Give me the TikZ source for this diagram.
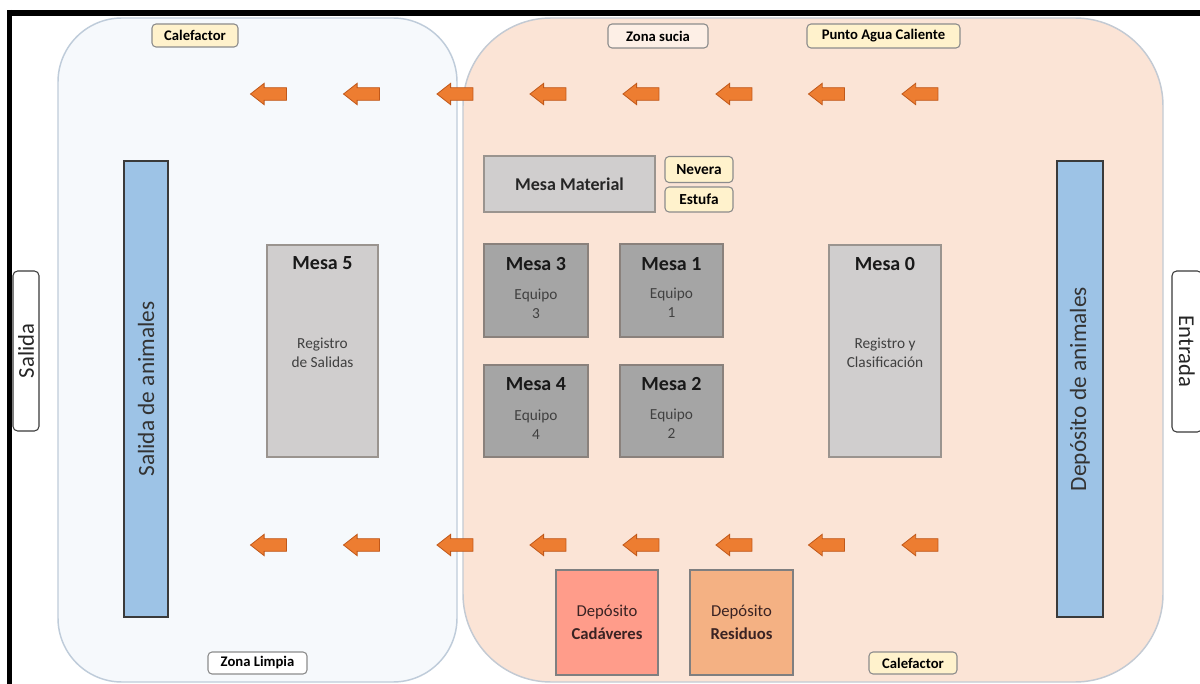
\documentclass[tikz,border=0pt]{standalone}
\usepackage{fontspec}
\setmainfont{Carlito}
\usetikzlibrary{shapes.arrows}
\definecolor{zLfill}{HTML}{F6F9FC}
\definecolor{zLdraw}{HTML}{BFCCDA}
\definecolor{zSfill}{HTML}{FBE4D6}
\definecolor{zSdraw}{HTML}{C3CAD3}
\definecolor{tagfill}{HTML}{FFF2CC}
\definecolor{tagdraw}{HTML}{8C8C8C}
\definecolor{mlight}{HTML}{D0CECE}
\definecolor{mlightd}{HTML}{9A948F}
\definecolor{mdark}{HTML}{A5A5A5}
\definecolor{mdarkd}{HTML}{8A817C}
\definecolor{barfill}{HTML}{9DC3E6}
\definecolor{bardraw}{HTML}{3A3A3A}
\definecolor{cadfill}{HTML}{FF9C8A}
\definecolor{resfill}{HTML}{F4B183}
\definecolor{depdraw}{HTML}{7F7F80}
\definecolor{arrfill}{HTML}{ED7D31}
\definecolor{arrdraw}{HTML}{C0581A}
\definecolor{subtext}{HTML}{404040}
\definecolor{deptext}{HTML}{3A2323}
\begin{document}
\begin{tikzpicture}[x=0.75pt,y=-0.75pt,
  wh/.style 2 args={minimum width=#1*0.75pt, minimum height=#2*0.75pt},
  zoneL/.style={draw=zLdraw, fill=zLfill, line width=1.1pt, rounded corners=48pt},
  zoneS/.style={draw=zSdraw, fill=zSfill, line width=1.1pt, rounded corners=66pt},
  tag/.style={draw=tagdraw, fill=tagfill, rounded corners=3pt, line width=0.8pt,
    font=\fontsize{11}{12}\selectfont\bfseries, inner sep=0pt, text=black},
  zonetag/.style={tag, fill=#1},
  doorbox/.style={draw=bardraw, fill=white, rounded corners=3.5pt, line width=0.8pt,
    inner sep=0pt, font=\fontsize{17}{20}\selectfont, text=black!85},
  bar/.style={draw=bardraw, fill=barfill, line width=1pt, inner sep=0pt,
    font=\fontsize{17.5}{20}\selectfont, text=black!80},
  mesaL/.style={draw=mlightd, fill=mlight, line width=1pt, inner sep=0pt},
  mesaD/.style={draw=mdarkd, fill=mdark, line width=1pt, inner sep=0pt},
  mtitle/.style={font=\fontsize{15}{18}\selectfont\bfseries, text=black!90, inner sep=0pt},
  msub/.style={font=\fontsize{11.5}{14.5}\selectfont, text=subtext, align=center, inner sep=0pt},
  deposit/.style={draw=depdraw, line width=1pt, inner sep=0pt, align=center,
    font=\fontsize{12.5}{17}\selectfont, text=deptext},
  arr/.style={single arrow, shape border rotate=180, fill=arrfill, draw=arrdraw,
    line width=0.6pt, minimum height=27pt, minimum width=15pt, inner sep=4.4pt,
    single arrow head extend=3.3pt, single arrow tip angle=76}
]
\useasboundingbox (0,0) rectangle (1200,684);
\fill[white] (0,0) rectangle (1200,684);

% zones
\draw[zoneL] (58,18) rectangle (457,682);
\draw[zoneS] (463,18) rectangle (1163,682);

% frame
\draw[black, line width=4.5pt] (7,13) -- (1200,13);
\draw[black, line width=3.75pt] (9.5,10) -- (9.5,684);

% labels at top/bottom
\node[tag, wh={86}{23}] (calT) at (195,35.5) {Calefactor};
\node[zonetag=zSfill!60!white, wh={100}{24}] (zsucia) at (658,36) {Zona sucia};
\node[tag, wh={153}{24}] (punto) at (883.5,36) {Punto Agua Caliente};
\node[zonetag=white, wh={99}{22}] (zlimpia) at (257.5,663) {Zona Limpia};
\node[tag, wh={88}{22}] (calB) at (913,663) {Calefactor};

% doors
\node[doorbox, wh={26}{160}] (salida) at (26,351) {\rotatebox{90}{Salida}};
\node[doorbox, wh={30}{161}] (entrada) at (1187,351.5) {\rotatebox{-90}{Entrada}};

% blue bars
\node[bar, wh={44}{456}] (salan) at (146,389) {\rotatebox{90}{Salida de animales}};
\node[bar, wh={46}{456}] (depan) at (1080,389) {\rotatebox{90}{Depósito de animales}};

% Mesa 5 and Mesa 0
\node[mesaL, wh={111}{212}] (m5) at (322.5,351) {};
\node[mtitle] (m5t) at (322.5,263.5) {Mesa 5};
\node[msub] (m5s) at (322.5,353) {Registro\\de Salidas};
\node[mesaL, wh={112}{212}] (m0) at (885,351) {};
\node[mtitle] (m0t) at (885,264) {Mesa 0};
\node[msub] (m0s) at (885,353) {Registro y\\Clasificación};

% Mesa Material, Nevera, Estufa
\node[mesaL, wh={171}{56}, font=\fontsize{13.5}{16}\selectfont\bfseries, text=black!85] (mmat) at (569.5,184) {Mesa Material};
\node[tag, wh={68}{26}, font=\fontsize{11.5}{12}\selectfont\bfseries] (nevera) at (699,169.5) {Nevera};
\node[tag, wh={68}{25}, font=\fontsize{11.5}{12}\selectfont\bfseries] (estufa) at (699,199.5) {Estufa};

% Mesas 1-4
\node[mesaD, wh={104}{93}] (m3) at (536,290.5) {};
\node[mtitle] (m3t) at (536,264) {Mesa 3};
\node[msub] (m3s) at (536,304) {Equipo\\3};
\node[mesaD, wh={103}{93}] (m1) at (671.5,290.5) {};
\node[mtitle] (m1t) at (671.5,264) {Mesa 1};
\node[msub] (m1s) at (671.5,303) {Equipo\\1};
\node[mesaD, wh={104}{92}] (m4) at (536,411) {};
\node[mtitle] (m4t) at (536,384.5) {Mesa 4};
\node[msub] (m4s) at (536,425) {Equipo\\4};
\node[mesaD, wh={103}{92}] (m2) at (671.5,411) {};
\node[mtitle] (m2t) at (671.5,384.5) {Mesa 2};
\node[msub] (m2s) at (671.5,424) {Equipo\\2};

% deposits
\node[deposit, fill=cadfill, wh={102}{105}] (cad) at (607,622.5) {Depósito\\\textbf{Cadáveres}};
\node[deposit, fill=resfill, wh={103}{105}] (res) at (741.5,622.5) {Depósito\\\textbf{Residuos}};

% arrows
\foreach \i/\x in {1/272.5,2/365.5,3/459,4/552,5/645,6/738,7/830.5,8/924}{
  \node[arr] (aT\i) at (\x,94) {};
  \node[arr] (aB\i) at (\x,545) {};
}
\end{tikzpicture}
\end{document}
